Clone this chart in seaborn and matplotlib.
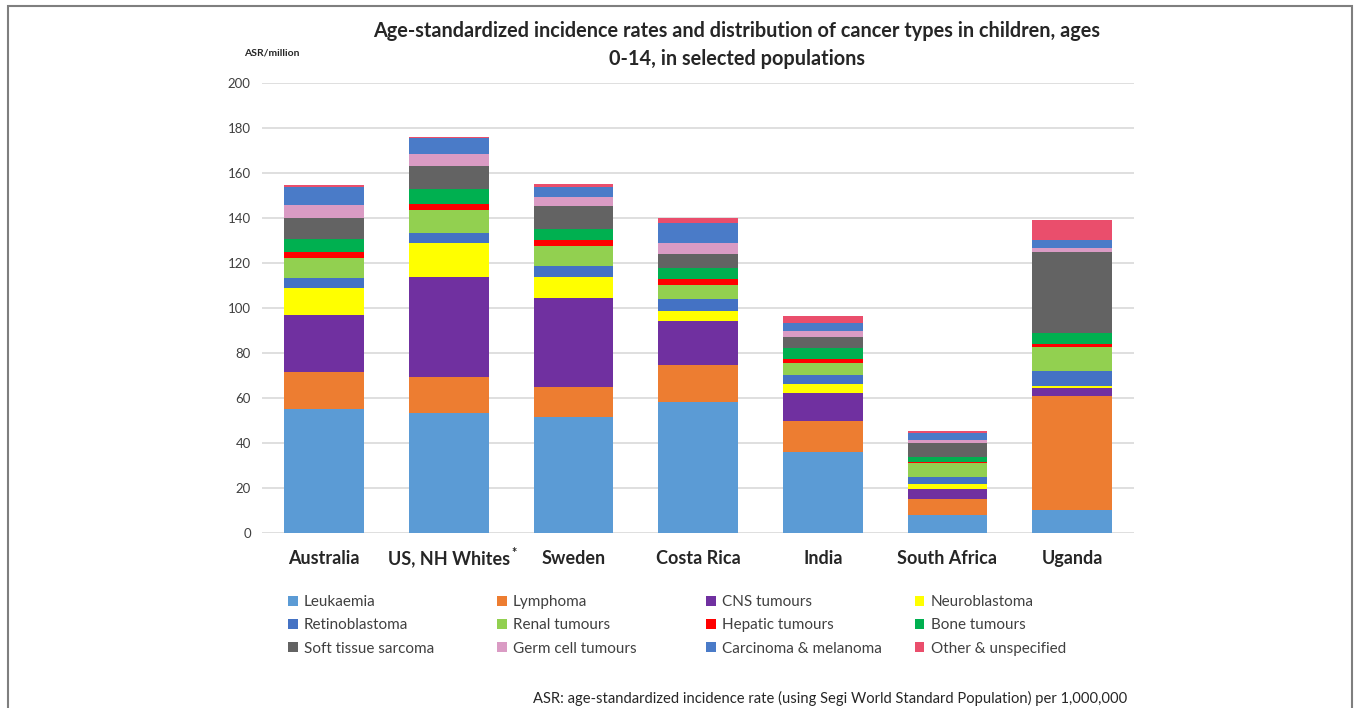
import numpy as np
import matplotlib
matplotlib.use("Agg")
import matplotlib.pyplot as plt
import matplotlib.patches as mpatches
from matplotlib.legend import Legend
import seaborn as sns

# data (ASR per million)
countries = ["Australia", "US, NH Whites", "Sweden", "Costa Rica", "India", "South Africa", "Uganda"]
cancer_types = ["Leukaemia", "Lymphoma", "CNS tumours", "Neuroblastoma",
                "Retinoblastoma", "Renal tumours", "Hepatic tumours", "Bone tumours",
                "Soft tissue sarcoma", "Germ cell tumours", "Carcinoma & melanoma", "Other & unspecified"]

leukaemia      = [55.1, 53.2, 51.7, 58.4, 36.1,  8.1, 10.2]
lymphoma       = [16.5, 16.3, 13.2, 16.4, 13.5,  7.0, 50.8]
cns            = [25.3, 44.4, 39.4, 19.6, 12.8,  4.3,  3.6]
neuroblastoma  = [11.9, 15.0,  9.3,  4.3,  3.8,  2.4,  0.7]
retinoblastoma = [ 4.7,  4.3,  5.1,  5.4,  4.2,  3.2,  6.6]
renal          = [ 8.9, 10.2,  8.9,  6.0,  5.0,  6.0, 10.9]
hepatic        = [ 2.6,  3.0,  2.5,  2.8,  1.8,  0.7,  1.3]
bone           = [ 5.7,  6.4,  5.0,  4.9,  5.2,  2.2,  4.8]
soft_tissue    = [ 9.4, 10.4, 10.2,  6.2,  4.7,  6.2, 36.1]
germ_cell      = [ 5.8,  5.1,  4.2,  4.8,  2.7,  1.2,  1.8]
carcinoma      = [ 8.0,  7.1,  4.4,  8.8,  3.4,  3.3,  3.4]
other          = [ 0.8,  0.7,  1.1,  2.3,  3.4,  0.9,  8.9]

series = [leukaemia, lymphoma, cns, neuroblastoma, retinoblastoma, renal,
          hepatic, bone, soft_tissue, germ_cell, carcinoma, other]
colors = ["#5B9BD5", "#ED7D31", "#7030A0", "#FFFF00", "#4472C4", "#92D050",
          "#FF0000", "#00B050", "#636363", "#DA9BC4", "#4A7BC8", "#EA4E6C"]

sns.set_style("white")
plt.rcParams["font.family"] = ["Lato", "DejaVu Sans"]

fig = plt.figure(figsize=(13.57, 7.08), dpi=100)
ax = fig.add_axes([0.193, 0.247, 0.643, 0.636])

bottom = np.zeros(len(countries))
for name, vals, c in zip(cancer_types, series, colors):
    sns.barplot(x=countries, y=vals, bottom=bottom, color=c, width=0.64,
                label=name, ax=ax, saturation=1, linewidth=0)
    bottom = bottom + np.array(vals)

ax.set_ylim(0, 200)
ax.set_yticks(range(0, 201, 20))
ax.yaxis.grid(True, color="#d9d9d9", linewidth=1.2)
ax.set_axisbelow(True)
for s in ax.spines.values():
    s.set_visible(False)
ax.tick_params(axis="y", length=0, pad=8, labelsize=9.5, labelcolor="#404040")
ax.tick_params(axis="x", length=0, pad=12)
for lbl in ax.get_xticklabels():
    lbl.set_fontsize(13)
    lbl.set_fontweight("bold")
ax.set_xlabel("")
ax.set_ylabel("")

# superscript asterisk after the US label
us_label = ax.get_xticklabels()[1]
ax.annotate("*", xy=(1, 1), xycoords=us_label, xytext=(1.0, -5), textcoords="offset points",
            ha="left", va="baseline", fontsize=9, fontweight="bold")

# legend: four columns at fixed positions, filled row by row like the original
handles, labels = ax.get_legend_handles_labels()
if ax.get_legend():
    ax.get_legend().remove()
col_x = [0.030, 0.269, 0.509, 0.748]
for col, x0 in enumerate(col_x):
    idx = [col, col + 4, col + 8]
    leg = Legend(ax, [handles[i] for i in idx], [labels[i] for i in idx],
                 loc="upper left", bbox_to_anchor=(x0, -0.138),
                 frameon=False, fontsize=11, handlelength=0.65, handleheight=0.65,
                 handletextpad=0.4, labelspacing=0.6, borderpad=0, borderaxespad=0)
    for t in leg.get_texts():
        t.set_color("#404040")
    ax.add_artist(leg)

fig.text(0.543, 0.970, "Age-standardized incidence rates and distribution of cancer types in children, ages\n0-14, in selected populations",
         ha="center", va="top", fontsize=14.3, fontweight="bold", linespacing=1.5)
fig.text(0.180, 0.925, "ASR/million", ha="left", va="center", fontsize=7.5, fontweight="bold")
fig.text(0.831, 0.014, "ASR: age-standardized incidence rate (using Segi World Standard Population) per 1,000,000",
         ha="right", va="center", fontsize=10.6)

# outer frame
fig.patches.append(mpatches.Rectangle((0.006, -0.02), 0.990, 1.0115, transform=fig.transFigure,
                                      fill=False, edgecolor="#7f7f7f", linewidth=1.5))

fig.savefig("out.png", dpi=100)
